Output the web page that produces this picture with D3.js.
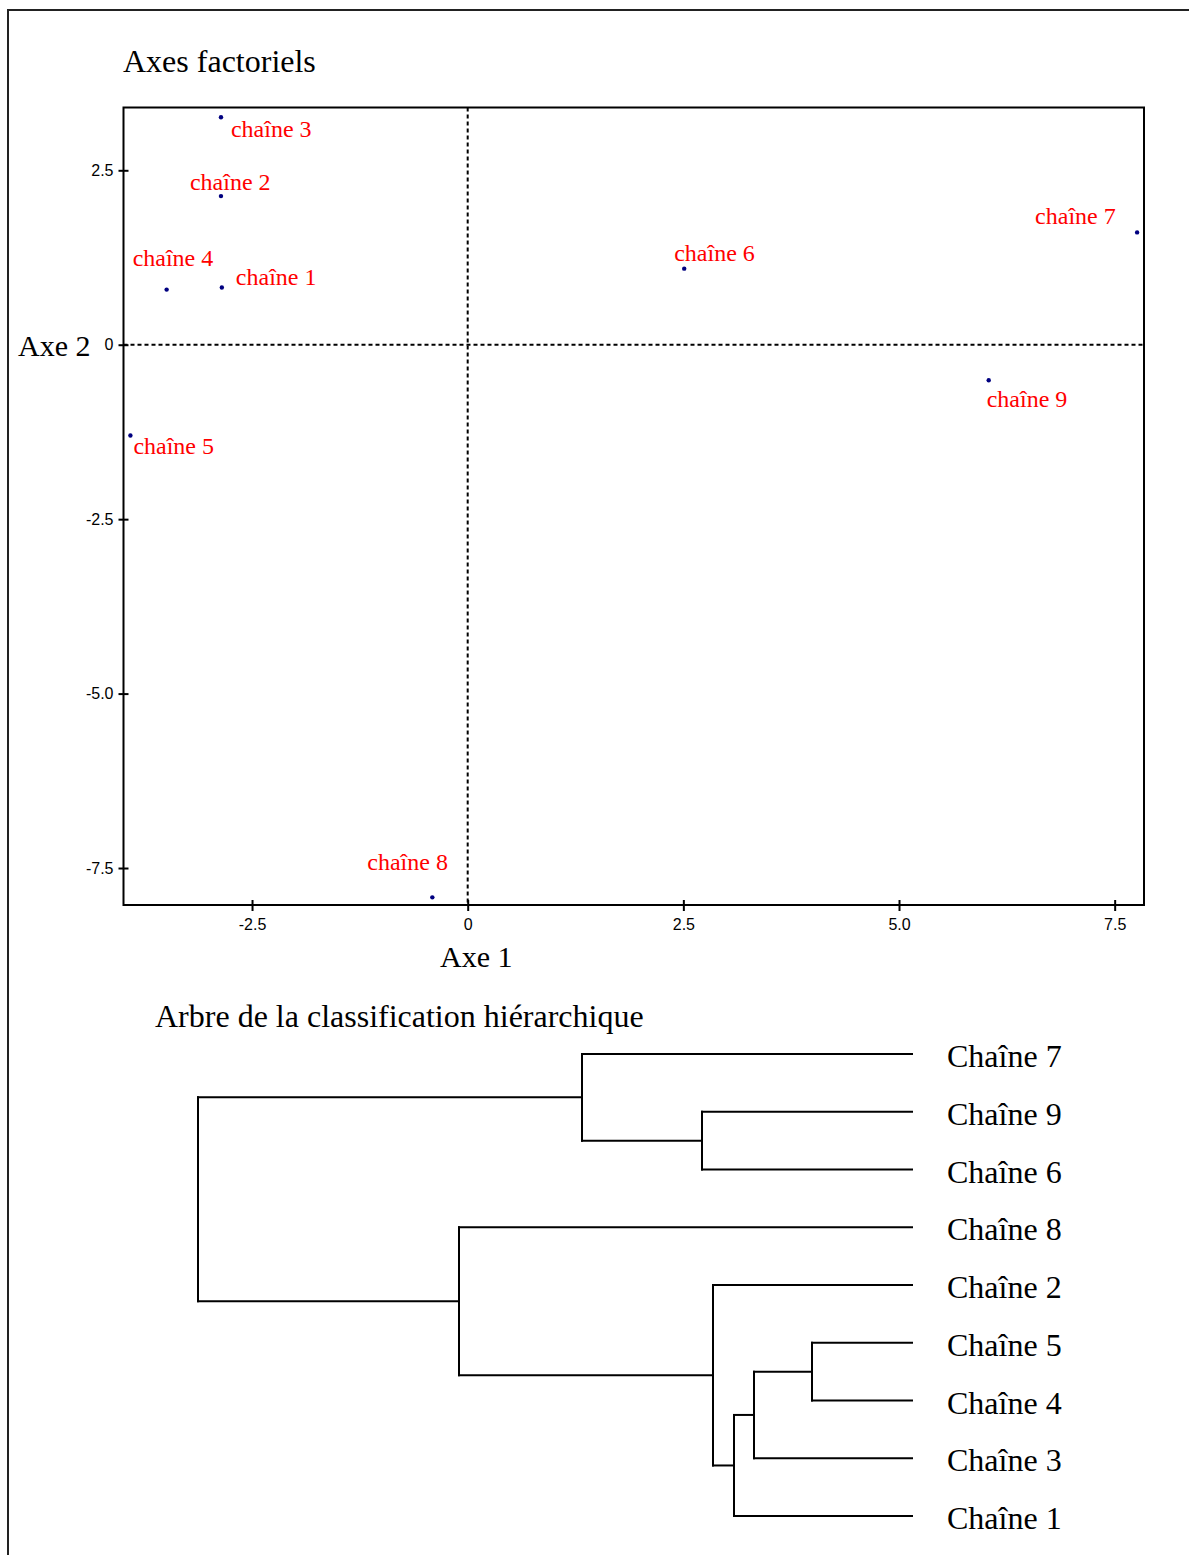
<!DOCTYPE html>
<html>
<head>
<meta charset="utf-8">
<script src="https://cdn.jsdelivr.net/npm/d3@7"></script>
<style>
  body { margin: 0; background: #fff; }
  text { font-family: "Liberation Serif", "Times New Roman", serif; }
  .tick text { font-family: "Liberation Sans", Arial, sans-serif; font-size: 16px; fill: #000; }
</style>
</head>
<body>
<svg width="1189" height="1555"></svg>
<script>
// --- data ---
const pointNames = ["chaîne 1", "chaîne 2", "chaîne 3", "chaîne 4", "chaîne 5",
                    "chaîne 6", "chaîne 7", "chaîne 8", "chaîne 9"];
const axe1 = [-2.85, -2.86, -2.86, -3.49, -3.91, 2.51, 7.76, -0.41, 6.04];
const axe2 = [0.82, 2.13, 3.26, 0.79, -1.30, 1.09, 1.61, -7.92, -0.51];
const xTicks = [-2.5, 0, 2.5, 5.0, 7.5];
const yTicks = [2.5, 0, -2.5, -5.0, -7.5];

// dendrogram: leaf order top->bottom, merges [a, b, height], merge i is "m"+i
const leafOrder = ["Chaîne 7", "Chaîne 9", "Chaîne 6", "Chaîne 8", "Chaîne 2",
                   "Chaîne 5", "Chaîne 4", "Chaîne 3", "Chaîne 1"];
const merges = [
  ["Chaîne 5", "Chaîne 4", 1.00],
  ["m0", "Chaîne 3", 1.58],
  ["m1", "Chaîne 1", 1.78],
  ["Chaîne 2", "m2", 1.99],
  ["Chaîne 9", "Chaîne 6", 2.10],
  ["Chaîne 7", "m4", 3.30],
  ["Chaîne 8", "m3", 4.53],
  ["m5", "m6", 7.14]
];

// label placement (px, relative to the point)
const labelOffsets = [[14, -3], [-31, -6], [10, 20], [-34, -24], [3, 19],
                      [-10, -8], [-102, -8], [-65, -27], [-2, 27]];

const svg = d3.select("svg");

// outer frame
svg.append("path")
    .attr("d", "M8,1555V10H1189")
    .attr("fill", "none")
    .attr("stroke", "#222")
    .attr("stroke-width", 2);

// ===== scatter =====
const plot = {left: 123.5, right: 1144, top: 107.5, bottom: 905};

const x = d3.scaleLinear()
    .domain([-3.99, 7.84])
    .range([plot.left, plot.right]);
const y = d3.scaleLinear()
    .domain([3.40, -8.03])
    .range([plot.top, plot.bottom]);

svg.append("text")
    .attr("x", 123).attr("y", 72)
    .attr("font-size", 32)
    .text("Axes factoriels");

// dashed zero lines
svg.append("line")
    .attr("x1", x(0)).attr("x2", x(0))
    .attr("y1", plot.top).attr("y2", plot.bottom)
    .attr("stroke", "#000").attr("stroke-width", 2)
    .attr("stroke-dasharray", "4,3");
svg.append("line")
    .attr("x1", plot.left).attr("x2", plot.right)
    .attr("y1", y(0)).attr("y2", y(0))
    .attr("stroke", "#000").attr("stroke-width", 2)
    .attr("stroke-dasharray", "4,3");

svg.append("rect")
    .attr("x", plot.left).attr("y", plot.top)
    .attr("width", plot.right - plot.left)
    .attr("height", plot.bottom - plot.top)
    .attr("fill", "none")
    .attr("stroke", "#000")
    .attr("stroke-width", 2);

const fmt = d => d === 0 ? "0" : d.toFixed(1);

const xAxis = svg.append("g")
    .attr("transform", `translate(0,${plot.bottom})`)
    .call(d3.axisBottom(x).tickValues(xTicks).tickFormat(fmt).tickSize(6).tickPadding(8));
xAxis.select(".domain").remove();
xAxis.selectAll(".tick line").attr("y1", -5).attr("stroke-width", 2);

const yAxis = svg.append("g")
    .attr("transform", `translate(${plot.left},0)`)
    .call(d3.axisLeft(y).tickValues(yTicks).tickFormat(fmt).tickSize(5).tickPadding(5));
yAxis.select(".domain").remove();
yAxis.selectAll(".tick line").attr("x1", 5).attr("stroke-width", 2);

svg.append("text")
    .attr("x", 18).attr("y", 356)
    .attr("font-size", 30)
    .text("Axe 2");
svg.append("text")
    .attr("x", 440).attr("y", 967)
    .attr("font-size", 30)
    .text("Axe 1");

const pts = pointNames.map((name, i) => ({name, a1: axe1[i], a2: axe2[i], off: labelOffsets[i]}));

svg.append("g").selectAll("circle")
    .data(pts).enter()
    .append("circle")
    .attr("cx", d => x(d.a1))
    .attr("cy", d => y(d.a2))
    .attr("r", 2.2)
    .attr("fill", "#000080");

svg.append("g").selectAll("text")
    .data(pts).enter()
    .append("text")
    .attr("x", d => x(d.a1) + d.off[0])
    .attr("y", d => y(d.a2) + d.off[1])
    .attr("font-size", 24)
    .attr("fill", "#ff0000")
    .text(d => d.name);

// ===== dendrogram =====
svg.append("text")
    .attr("x", 155).attr("y", 1027)
    .attr("font-size", 32)
    .text("Arbre de la classification hiérarchique");

const hx = d3.scaleLinear().domain([0, 7.14]).range([912, 198]);
const ly = d3.scalePoint().domain(leafOrder).range([1054, 1516]);

const nodes = {};
leafOrder.forEach(n => { nodes[n] = {y: ly(n), h: 0}; });
merges.forEach((m, i) => {
    const a = nodes[m[0]], b = nodes[m[1]];
    nodes["m" + i] = {y: (a.y + b.y) / 2, h: m[2], a, b};
});

const segs = [];
merges.forEach((m, i) => {
    const n = nodes["m" + i];
    segs.push([hx(n.h), n.a.y, hx(n.h), n.b.y]);
    segs.push([hx(n.h), n.a.y, hx(n.a.h), n.a.y]);
    segs.push([hx(n.h), n.b.y, hx(n.b.h), n.b.y]);
});

svg.append("g").selectAll("line")
    .data(segs).enter()
    .append("line")
    .attr("x1", d => d[0]).attr("y1", d => d[1])
    .attr("x2", d => d[2]).attr("y2", d => d[3])
    .attr("stroke", "#000")
    .attr("stroke-width", 2)
    .attr("stroke-linecap", "square");

svg.append("g").selectAll("text")
    .data(leafOrder).enter()
    .append("text")
    .attr("x", 947)
    .attr("y", d => ly(d) + 13)
    .attr("font-size", 32)
    .text(d => d);
</script>
</body>
</html>
